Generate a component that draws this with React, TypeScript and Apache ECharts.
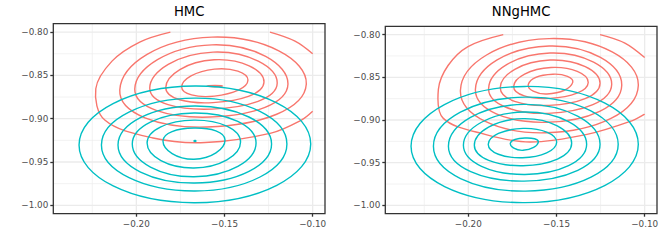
import React, { useEffect, useRef } from "react";
import * as echarts from "echarts";

type Pt = [number, number];

// ---- axis data ----
const panelTitles = ["HMC", "NNgHMC"];
const xTicks = [-0.2, -0.15, -0.1];
const yTicks = [-1.0, -0.95, -0.9, -0.85, -0.8];
const xMinor = [-0.225, -0.175, -0.125];
const yMinor = [-0.975, -0.925, -0.875, -0.825];
const xRange: Pt = [-0.2471, -0.093];
const yRange: Pt = [-1.0097, -0.7903];

// ---- contour data (closed rings: leftmost, top, rightmost, bottom points) ----
const hmcRed: Pt[][] = [
  [[-0.1599, -0.8623], [-0.1554, -0.8615], [-0.151, -0.8623], [-0.1554, -0.8631]],
  [[-0.1743, -0.8635], [-0.1557, -0.8427], [-0.1367, -0.8554], [-0.1557, -0.8739]],
  [[-0.1833, -0.864], [-0.1559, -0.832], [-0.1276, -0.8577], [-0.1565, -0.8814]],
  [[-0.1924, -0.8646], [-0.1565, -0.8231], [-0.1201, -0.8589], [-0.1571, -0.8889]],
  [[-0.2009, -0.8658], [-0.1571, -0.8147], [-0.114, -0.86], [-0.1582, -0.8981]],
  [[-0.2094, -0.8669], [-0.1571, -0.8058], [-0.1036, -0.86], [-0.1599, -0.9096]],
];
const hmcRedOpen: Pt[][] = [
  [[-0.1807, -0.8], [-0.1981, -0.8115], [-0.2138, -0.8335], [-0.223, -0.8654], [-0.2179, -0.9016],
   [-0.1905, -0.9223], [-0.161, -0.9275], [-0.1236, -0.9166], [-0.1064, -0.9016], [-0.1, -0.8915]],
  [[-0.1242, -0.8], [-0.11, -0.8104], [-0.1, -0.825]],
];
const hmcTeal: Pt[][] = [
  [[-0.1673, -0.9258], [-0.1667, -0.9252], [-0.1662, -0.9258], [-0.1667, -0.9264]],
  [[-0.1849, -0.9258], [-0.1673, -0.9108], [-0.1497, -0.9246], [-0.1673, -0.9469]],
  [[-0.1939, -0.9281], [-0.1673, -0.9016], [-0.1409, -0.9269], [-0.1673, -0.9569]],
  [[-0.2023, -0.9292], [-0.1673, -0.8935], [-0.1321, -0.9281], [-0.1673, -0.967]],
  [[-0.2104, -0.9304], [-0.167, -0.8854], [-0.1233, -0.9292], [-0.167, -0.9743]],
  [[-0.2198, -0.9304], [-0.1667, -0.8762], [-0.1146, -0.9292], [-0.1667, -0.9835]],
  [[-0.2325, -0.9304], [-0.1667, -0.8623], [-0.1011, -0.9292], [-0.1667, -0.997]],
];

const nngRed: Pt[][] = [
  [[-0.166, -0.8584], [-0.152, -0.8464], [-0.1408, -0.856], [-0.1554, -0.8695]],
  [[-0.1743, -0.8607], [-0.1531, -0.8385], [-0.132, -0.856], [-0.1537, -0.8747]],
  [[-0.1819, -0.8619], [-0.1537, -0.8298], [-0.1253, -0.8572], [-0.1542, -0.8829]],
  [[-0.1885, -0.8631], [-0.1537, -0.8216], [-0.1187, -0.8584], [-0.1548, -0.8922]],
  [[-0.196, -0.8642], [-0.1542, -0.8134], [-0.113, -0.8595], [-0.1554, -0.9027]],
  [[-0.2045, -0.8654], [-0.1542, -0.8047], [-0.1036, -0.8595], [-0.1559, -0.915]],
];
const nngRedOpen: Pt[][] = [
  [[-0.1802, -0.8], [-0.2002, -0.814], [-0.2115, -0.8362], [-0.217, -0.8642], [-0.2142, -0.8981],
   [-0.1905, -0.9168], [-0.165, -0.9258], [-0.1327, -0.9168], [-0.1066, -0.9004], [-0.1, -0.8931]],
  [[-0.1253, -0.8], [-0.1112, -0.8099], [-0.1, -0.8269]],
];
const nngTeal: Pt[][] = [
  [[-0.1762, -0.9273], [-0.1679, -0.9211], [-0.1603, -0.9258], [-0.169, -0.9355]],
  [[-0.1887, -0.9285], [-0.169, -0.9098], [-0.1499, -0.9261], [-0.1693, -0.9442]],
  [[-0.1966, -0.9296], [-0.169, -0.8984], [-0.1414, -0.9273], [-0.169, -0.9535]],
  [[-0.2028, -0.9296], [-0.1679, -0.8907], [-0.1329, -0.9285], [-0.1679, -0.9638]],
  [[-0.2113, -0.9308], [-0.1684, -0.8817], [-0.1253, -0.9285], [-0.1684, -0.9716]],
  [[-0.2198, -0.9308], [-0.1676, -0.8732], [-0.115, -0.9285], [-0.1676, -0.9833]],
  [[-0.2325, -0.9308], [-0.1679, -0.8607], [-0.1036, -0.9285], [-0.1679, -0.9967]],
];

const panels = [
  { red: hmcRed, redOpen: hmcRedOpen, teal: hmcTeal },
  { red: nngRed, redOpen: nngRedOpen, teal: nngTeal },
];

const RED = "#F8766D";
const TEAL = "#00BFC4";
const FONT = "'DejaVu Sans', Verdana, sans-serif";

const grids = [
  { left: 53.3, top: 23.7, width: 271.7, height: 190 },
  { left: 385.3, top: 26.3, width: 271.7, height: 187.4 },
];

const fmt = (v: number) => (v < 0 ? "\u2212" : "") + Math.abs(v).toFixed(2);

function ringSeries(rings: Pt[][], closed: boolean, color: string, idx: number) {
  return {
    type: "custom",
    xAxisIndex: idx,
    yAxisIndex: idx,
    clip: true,
    silent: true,
    z: 3,
    data: rings.map((r) => r[0]),
    renderItem: (params: any, api: any) => {
      const pts = rings[params.dataIndex].map((p) => api.coord(p));
      return {
        type: closed ? "polygon" : "polyline",
        shape: { points: pts, smooth: closed ? 0.55 : 0.35 },
        style: { fill: "none", stroke: color, lineWidth: 1.4 },
      };
    },
  };
}

function gridLineSeries(idx: number) {
  const lines = [
    ...xMinor.map((v) => ({ v, dir: "x", major: false })),
    ...yMinor.map((v) => ({ v, dir: "y", major: false })),
    ...xTicks.map((v) => ({ v, dir: "x", major: true })),
    ...yTicks.map((v) => ({ v, dir: "y", major: true })),
  ];
  return {
    type: "custom",
    xAxisIndex: idx,
    yAxisIndex: idx,
    silent: true,
    clip: true,
    z: 1,
    data: lines.map((l) => (l.dir === "x" ? [l.v, yRange[0]] : [xRange[0], l.v])),
    renderItem: (params: any, api: any) => {
      const l = lines[params.dataIndex];
      const a = l.dir === "x" ? api.coord([l.v, yRange[0]]) : api.coord([xRange[0], l.v]);
      const b = l.dir === "x" ? api.coord([l.v, yRange[1]]) : api.coord([xRange[1], l.v]);
      return {
        type: "line",
        shape: { x1: a[0], y1: a[1], x2: b[0], y2: b[1] },
        style: { stroke: "#EBEBEB", lineWidth: l.major ? 1.3 : 0.65 },
      };
    },
  };
}

function borderSeries(idx: number) {
  return {
    type: "custom",
    xAxisIndex: idx,
    yAxisIndex: idx,
    silent: true,
    clip: false,
    z: 5,
    data: [[xRange[0], yRange[0]]],
    renderItem: (_p: any, api: any) => {
      const a = api.coord([xRange[0], yRange[1]]);
      const b = api.coord([xRange[1], yRange[0]]);
      return {
        type: "rect",
        shape: { x: a[0], y: a[1], width: b[0] - a[0], height: b[1] - a[1] },
        style: { fill: "none", stroke: "#333333", lineWidth: 1.3 },
      };
    },
  };
}

export default function App() {
  const ref = useRef<HTMLDivElement>(null);
  useEffect(() => {
    if (!ref.current) return;
    const chart = echarts.init(ref.current, undefined, { renderer: "svg" });
    const xAxis = grids.map((_, i) => ({
      type: "value",
      gridIndex: i,
      min: xRange[0],
      max: xRange[1],
      axisLine: { show: false },
      splitLine: { show: false },
      axisTick: { show: true, customValues: xTicks, length: 3, lineStyle: { color: "#333333", width: 1.3 } },
      axisLabel: {
        customValues: xTicks,
        formatter: fmt,
        color: "#4D4D4D",
        fontSize: 8.8,
        fontFamily: FONT,
        margin: 5.5,
      },
    }));
    const yAxis = grids.map((_, i) => ({
      type: "value",
      gridIndex: i,
      min: yRange[0],
      max: yRange[1],
      axisLine: { show: false },
      splitLine: { show: false },
      axisTick: { show: true, customValues: yTicks, length: 3, lineStyle: { color: "#333333", width: 1.3 } },
      axisLabel: {
        customValues: yTicks,
        formatter: fmt,
        color: "#4D4D4D",
        fontSize: 8.8,
        fontFamily: FONT,
        margin: 5,
      },
    }));
    const series: any[] = [];
    panels.forEach((p, i) => {
      series.push(gridLineSeries(i));
      series.push(ringSeries(p.red, true, RED, i));
      series.push(ringSeries(p.redOpen, false, RED, i));
      series.push(ringSeries(p.teal, true, TEAL, i));
      series.push(borderSeries(i));
    });
    chart.setOption({
      animation: false,
      backgroundColor: "#ffffff",
      grid: grids.map((g) => ({ ...g, containLabel: false, show: false })),
      xAxis,
      yAxis,
      series,
      graphic: panelTitles.map((t, i) => ({
        type: "text",
        x: grids[i].left + grids[i].width / 2,
        y: 11.7,
        style: {
          text: t,
          textAlign: "center",
          textVerticalAlign: "middle",
          fontSize: 13.2,
          fontFamily: FONT,
          fill: "#000000",
        },
      })),
    });
    return () => chart.dispose();
  }, []);
  return (
    <div
      ref={ref}
      style={{ position: "fixed", left: 0, top: 0, width: 664, height: 249, background: "#fff" }}
    />
  );
}
